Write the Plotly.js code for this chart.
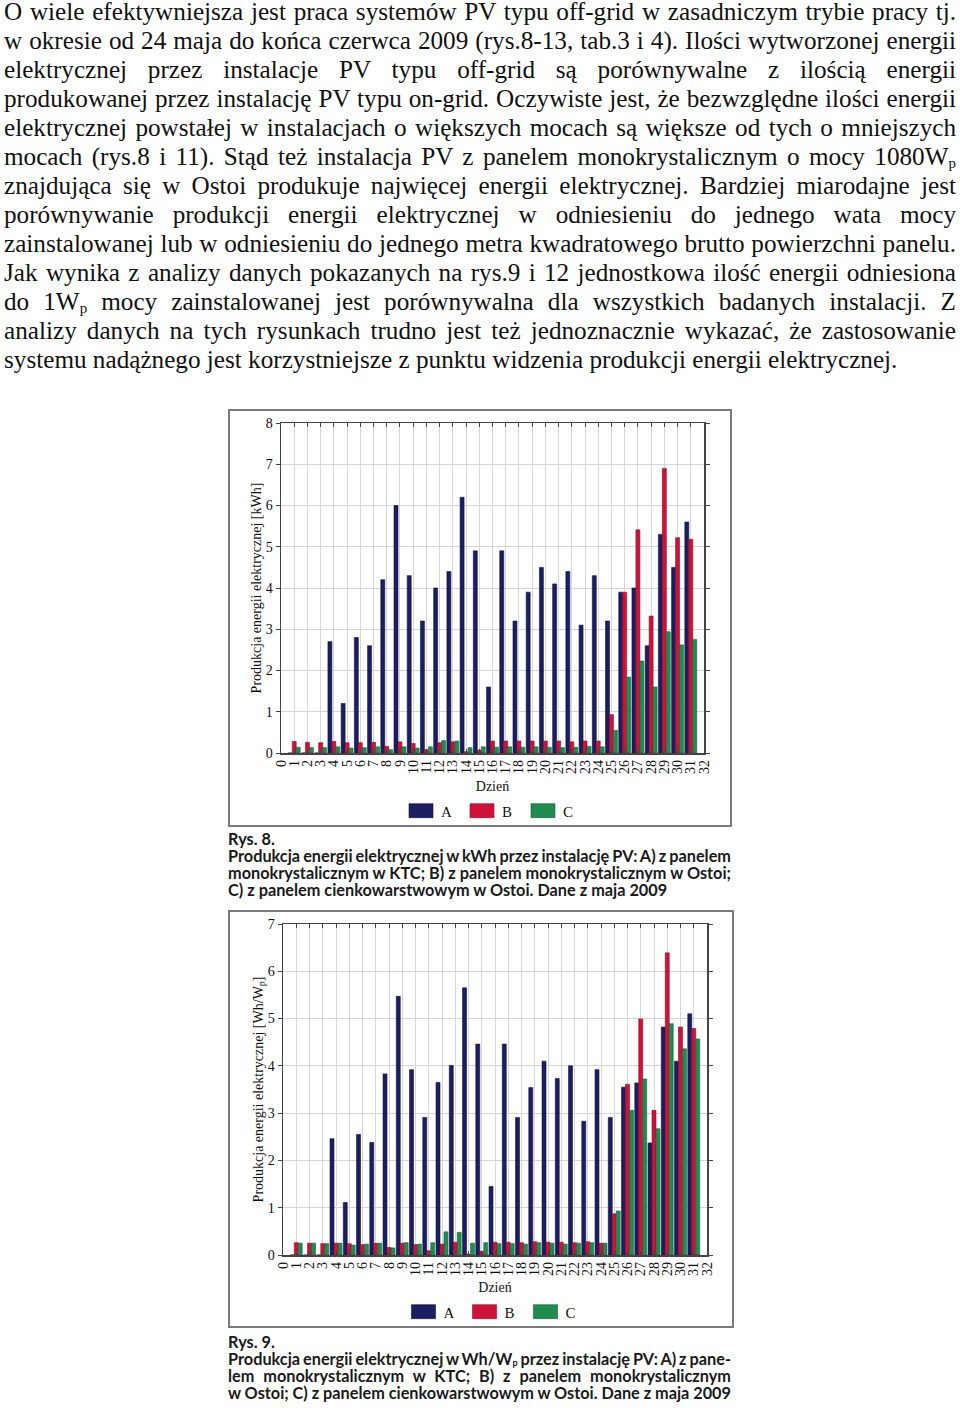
<!DOCTYPE html>
<html>
<head>
<meta charset="utf-8">
<script src="https://cdn.plot.ly/plotly-3.0.1.min.js"></script>
<style>
  html, body { margin:0; padding:0; background:#fff; }
  body { width:960px; height:1408px; position:relative; overflow:hidden; }
  .para { position:absolute; left:4px; top:-3px; width:952px; font-family:"Liberation Serif", "Times New Roman", serif; font-size:25.2px; line-height:29px; color:#111; }
  .para div { text-align:justify; text-align-last:justify; white-space:nowrap; height:29px; }
  .para div.last { text-align-last:left; }
  .para sub { font-size:15px; vertical-align:-3px; line-height:0; }
  .frame { position:absolute; border:2px solid #7a7a7a; box-sizing:border-box; background:#fff; }
  .cap { position:absolute; left:228px; width:503px; font-family:Lato, "DejaVu Sans", sans-serif; font-weight:700; font-size:16.3px; line-height:17px; color:#1a1a1a; }
  .cap div { text-align:justify; text-align-last:justify; white-space:nowrap; height:17px; word-spacing:-1.5px; }
  .cap div.l { text-align-last:left; word-spacing:0; }
  .cap sub { font-size:9px; vertical-align:-1px; line-height:0; }
</style>
</head>
<body>
<div class="para">
  <div>O wiele efektywniejsza jest praca systemów PV typu off-grid w zasadniczym trybie pracy tj.</div>
  <div>w okresie od 24 maja do końca czerwca 2009 (rys.8-13, tab.3 i 4). Ilości wytworzonej energii</div>
  <div>elektrycznej przez instalacje PV typu off-grid są porównywalne z ilością energii</div>
  <div>produkowanej przez instalację PV typu on-grid. Oczywiste jest, że bezwzględne ilości energii</div>
  <div>elektrycznej powstałej w instalacjach o większych mocach są większe od tych o mniejszych</div>
  <div>mocach (rys.8 i 11). Stąd też instalacja PV z panelem monokrystalicznym o mocy 1080W<sub>p</sub></div>
  <div>znajdująca się w Ostoi produkuje najwięcej energii elektrycznej. Bardziej miarodajne jest</div>
  <div>porównywanie produkcji energii elektrycznej w odniesieniu do jednego wata mocy</div>
  <div>zainstalowanej lub w odniesieniu do jednego metra kwadratowego brutto powierzchni panelu.</div>
  <div>Jak wynika z analizy danych pokazanych na rys.9 i 12 jednostkowa ilość energii odniesiona</div>
  <div>do 1W<sub>p</sub> mocy zainstalowanej jest porównywalna dla wszystkich badanych instalacji. Z</div>
  <div>analizy danych na tych rysunkach trudno jest też jednoznacznie wykazać, że zastosowanie</div>
  <div class="last">systemu nadążnego jest korzystniejsze z punktu widzenia produkcji energii elektrycznej.</div>
</div>

<div class="frame" style="left:228px; top:409px; width:504px; height:418px;">
  <div id="chart1" style="width:500px; height:414px;"></div>
</div>
<div class="cap" style="top:830px;">
  <div class="l">Rys. 8.</div>
  <div>Produkcja energii elektrycznej w kWh przez instalację PV: A) z panelem</div>
  <div>monokrystalicznym w KTC; B) z panelem monokrystalicznym w Ostoi;</div>
  <div class="l">C) z panelem cienkowarstwowym w Ostoi. Dane z maja 2009</div>
</div>

<div class="frame" style="left:228px; top:910px; width:506px; height:418px;">
  <div id="chart2" style="width:502px; height:414px;"></div>
</div>
<div class="cap" style="top:1333px;">
  <div class="l">Rys. 9.</div>
  <div>Produkcja energii elektrycznej w Wh/W<sub>p</sub> przez instalację PV: A) z pane-</div>
  <div>lem monokrystalicznym w KTC; B) z panelem monokrystalicznym</div>
  <div>w Ostoi; C) z panelem cienkowarstwowym w Ostoi. Dane z maja 2009</div>
</div>

<script>
// ---- data ----
var days = [1,2,3,4,5,6,7,8,9,10,11,12,13,14,15,16,17,18,19,20,21,22,23,24,25,26,27,28,29,30,31];
var xTicks = [0,1,2,3,4,5,6,7,8,9,10,11,12,13,14,15,16,17,18,19,20,21,22,23,24,25,26,27,28,29,30,31,32];
var seriesNames = ['A', 'B', 'C'];

// Rys. 8 – kWh
var kwhA = [0,0,0,2.7,1.2,2.8,2.6,4.2,6.0,4.3,3.2,4.0,4.4,6.2,4.9,1.6,4.9,3.2,3.9,4.5,4.1,4.4,3.1,4.3,3.2,3.9,4.0,2.6,5.3,4.5,5.6];
var kwhB = [0.28,0.26,0.25,0.28,0.25,0.25,0.26,0.16,0.27,0.23,0.08,0.25,0.27,0.03,0.07,0.29,0.29,0.29,0.29,0.29,0.29,0.27,0.29,0.29,0.93,3.9,5.41,3.32,6.9,5.22,5.18];
var kwhC = [0.14,0.13,0.13,0.15,0.12,0.13,0.15,0.08,0.15,0.12,0.15,0.30,0.29,0.13,0.15,0.14,0.15,0.14,0.15,0.14,0.13,0.14,0.16,0.15,0.55,1.84,2.23,1.6,2.94,2.62,2.75];

// Rys. 9 – Wh/Wp
var whA = [0,0,0,2.46,1.11,2.55,2.38,3.83,5.47,3.92,2.91,3.65,4.01,5.65,4.46,1.45,4.46,2.91,3.54,4.10,3.73,4.0,2.83,3.92,2.91,3.55,3.64,2.37,4.82,4.10,5.1];
var whB = [0.26,0.25,0.24,0.25,0.24,0.22,0.25,0.16,0.25,0.22,0.09,0.23,0.27,0.02,0.08,0.27,0.27,0.26,0.28,0.27,0.27,0.26,0.28,0.25,0.87,3.61,4.99,3.06,6.39,4.82,4.79];
var whC = [0.25,0.25,0.24,0.25,0.21,0.23,0.25,0.15,0.26,0.23,0.26,0.49,0.48,0.25,0.26,0.24,0.24,0.23,0.26,0.25,0.23,0.25,0.26,0.25,0.93,3.06,3.72,2.67,4.89,4.36,4.57];

var colors = ['#1b1e60', '#d01238', '#1f8d4e'];
var edge = ['#101040', '#8a0f2a', '#15603a'];
var serif = 'Liberation Serif, Times New Roman, serif';

function traces(a, b, c) {
  return [a, b, c].map(function (vals, i) {
    return { type:'bar', name:seriesNames[i], x:days, y:vals,
      marker:{ color:colors[i], line:{ color:edge[i], width:0.6 } } };
  });
}

function layout(yTitle, yMax, m) {
  return {
    width:m.w, height:414,
    margin:{ l:m.l, r:m.r, t:12, b:m.b, pad:0 },
    paper_bgcolor:'#fff', plot_bgcolor:'#fff',
    barmode:'group', bargap:0.1, bargroupgap:0,
    font:{ family:serif, color:'#111' },
    showlegend:true,
    legend:{ orientation:'h', x:m.lx, xanchor:'center', xref:'paper',
      y:0.034, yanchor:'middle', yref:'container',
      font:{ family:serif, size:15, color:'#111' }, traceorder:'normal',
      entrywidth:16, entrywidthmode:'pixels', itemclick:false },
    xaxis:{ range:[0,32], tickmode:'array', tickvals:xTicks, ticktext:xTicks.map(String),
      tickangle:-90, tickfont:{ family:serif, size:14, color:'#111' },
      showgrid:true, gridcolor:'#d6d6d6', gridwidth:1, zeroline:false,
      showline:true, linecolor:'#444', linewidth:1.5, mirror:'ticks',
      ticks:'inside', ticklen:4, tickcolor:'#444',
      title:{ text:'Dzień', font:{ family:serif, size:14, color:'#111' }, standoff:22 } },
    yaxis:{ range:[0,yMax], dtick:1, tick0:0,
      tickfont:{ family:serif, size:14, color:'#111' },
      showgrid:true, gridcolor:'#d6d6d6', gridwidth:1, zeroline:false,
      showline:true, linecolor:'#444', linewidth:1.5, mirror:'ticks',
      ticks:'outside', ticklen:4, tickcolor:'#444',
      title:{ text:yTitle, font:{ family:serif, size:14, color:'#111' }, standoff:1 } }
  };
}

function widenLegend(id) {
  var paths = document.querySelectorAll('#' + id + ' .legend .legendpoints path');
  paths.forEach(function (p) { p.setAttribute('d', 'M12,7H-12V-7H12Z'); });
}

var cfg = { staticPlot:true, displayModeBar:false };
Plotly.newPlot('chart1', traces(kwhA, kwhB, kwhC),
  layout('Produkcja energii elektrycznej [kWh]', 8, { w:500, l:51, r:26, b:72, lx:0.5 }), cfg)
  .then(function () { widenLegend('chart1'); });
Plotly.newPlot('chart2', traces(whA, whB, whC),
  layout('Produkcja energii elektrycznej [Wh/W<sub>p</sub>]', 7, { w:502, l:53, r:25, b:71, lx:0.5 }), cfg)
  .then(function () { widenLegend('chart2'); });
</script>
</body>
</html>
